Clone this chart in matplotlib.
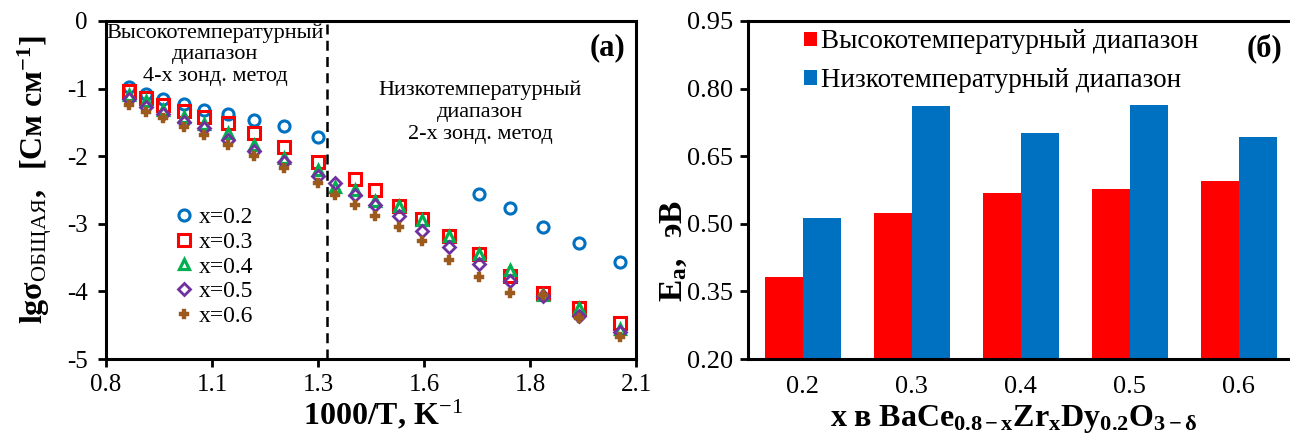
import matplotlib
matplotlib.use("Agg")
import matplotlib.pyplot as plt
import numpy as np

plt.rcParams['font.family'] = ['Liberation Serif', 'DejaVu Serif']
plt.rcParams['mathtext.fontset'] = 'custom'
plt.rcParams['mathtext.rm'] = 'Liberation Serif'
plt.rcParams['mathtext.it'] = 'Liberation Serif:italic'
plt.rcParams['mathtext.bf'] = 'Liberation Serif:bold'
plt.rcParams['axes.unicode_minus'] = False

# 1000/T points, high-temperature (4-probe) and low-temperature (2-probe) runs
inv_t_high = [0.857, 0.899, 0.940, 0.992, 1.041, 1.098, 1.162, 1.236, 1.320]
inv_t_low = [1.362, 1.411, 1.460, 1.519, 1.576, 1.640, 1.714, 1.790, 1.871, 1.960, 2.060]

# lg(sigma) for each composition
lg_x02_high = [-0.98, -1.08, -1.15, -1.23, -1.31, -1.38, -1.47, -1.56, -1.71]
lg_x02_low = [-2.56, -2.76, -3.04, -3.28, -3.56]          # last five low-T points
lg_x03_high = [-1.03, -1.14, -1.24, -1.33, -1.42, -1.51, -1.65, -1.86, -2.09]
lg_x03_low = [-2.33, -2.50, -2.74, -2.93, -3.18, -3.45, -3.77, -4.03, -4.24, -4.47]  # from 2nd low-T point
lg_x04_high = [-1.09, -1.19, -1.32, -1.42, -1.52, -1.66, -1.83, -2.03, -2.20]
lg_x04_low = [-2.45, -2.50, -2.66, -2.74, -2.95, -3.18, -3.45, -3.69, -4.05, -4.25, -4.55]
lg_x05_high = [-1.16, -1.27, -1.38, -1.49, -1.59, -1.76, -1.92, -2.09, -2.29]
lg_x05_low = [-2.40, -2.57, -2.72, -2.89, -3.11, -3.34, -3.59, -3.84, -4.07, -4.37, -4.60]
lg_x06_high = [-1.24, -1.34, -1.44, -1.57, -1.69, -1.83, -2.00, -2.18, -2.40]
lg_x06_low = [-2.57, -2.72, -2.88, -3.05, -3.25, -3.53, -3.78, -4.03, -4.05, -4.39, -4.68]

x_boundary = 1.342

x_ticks = [0.8, 1.06, 1.32, 1.58, 1.84, 2.1]
y_ticks = [-5, -4, -3, -2, -1, 0]

# activation energies, eV
compositions = ['0.2', '0.3', '0.4', '0.5', '0.6']
ea_high = [0.383, 0.523, 0.569, 0.578, 0.595]
ea_low = [0.513, 0.761, 0.702, 0.764, 0.692]
ea_ticks = [0.20, 0.35, 0.50, 0.65, 0.80, 0.95]

fig = plt.figure(figsize=(12.9, 4.43), dpi=100)
ax1 = fig.add_axes([0.0822, 0.1896, 0.4109, 0.763])
ax2 = fig.add_axes([0.580, 0.1896, 0.4225, 0.763])

series = [
    ('x=0.2', inv_t_high + inv_t_low[-5:], lg_x02_high + lg_x02_low,
     dict(marker='o', ms=8, mfc='none', mec='#0070C0', mew=2.2)),
    ('x=0.3', inv_t_high + inv_t_low[1:], lg_x03_high + lg_x03_low,
     dict(marker='s', ms=8, mfc='none', mec='#FF0000', mew=2.2)),
    ('x=0.4', inv_t_high + inv_t_low, lg_x04_high + lg_x04_low,
     dict(marker='^', ms=6.5, mfc='white', mec='#00B050', mew=2.3)),
    ('x=0.5', inv_t_high + inv_t_low, lg_x05_high + lg_x05_low,
     dict(marker='D', ms=6, mfc='none', mec='#7030A0', mew=2.0)),
    ('x=0.6', inv_t_high + inv_t_low, lg_x06_high + lg_x06_low,
     dict(marker='P', ms=7, mfc='#9C5A1C', mec='#9C5A1C', mew=0.3)),
]
for label, xs, ys, style in series:
    ax1.plot(xs, ys, ls='none', label=label, **style)

ax1.axvline(x_boundary, color='black', ls=(0, (4, 2.5)), lw=1.8)

ax1.set_xlim(0.8, 2.1)
ax1.set_ylim(-5, 0)
ax1.set_xticks(x_ticks)
ax1.set_xticklabels(['%.1f' % v for v in x_ticks])
ax1.set_yticks(y_ticks)
ax1.set_yticklabels([str(v) for v in y_ticks])
ax1.tick_params(labelsize=18, width=2, length=6, direction='out', color='black')
ax1.tick_params(axis='y', pad=7)
ax1.tick_params(axis='x', pad=5)
for sp in ax1.spines.values():
    sp.set_linewidth(2.2)

ax1.set_xlabel('1000/T, K$^{-1}$', fontsize=23, fontweight='bold')
ax1.xaxis.set_label_coords(0.523, -0.115)
ax1.set_ylabel(r'$\mathbf{lg\sigma}_{\mathrm{ОБЩАЯ}}\mathbf{,\ \ [См\ см^{-1}]}$',
               fontsize=23)
ax1.yaxis.set_label_coords(-0.098, 0.53)

ax1.text(1.067, -0.03, 'Высокотемпературный\nдиапазон\n4-х зонд. метод',
         ha='center', va='top', fontsize=16, linespacing=1.2)
ax1.text(1.717, -0.88, 'Низкотемпературный\nдиапазон\n2-х зонд. метод',
         ha='center', va='top', fontsize=16, linespacing=1.2)
ax1.text(0.979, 0.964, '(a)', transform=ax1.transAxes, ha='right', va='top',
         fontsize=22, fontweight='bold')

ax1.legend(loc='upper left', bbox_to_anchor=(0.13, 0.45), frameon=False,
           fontsize=17, handlelength=0.8, handletextpad=0.2, labelspacing=0.13,
           borderpad=0, borderaxespad=0)

# bar chart of activation energies
pos = np.arange(len(compositions))
w = 0.35
ax2.bar(pos - w / 2, ea_high, w, color='#FF0000', label='Высокотемпературный диапазон')
ax2.bar(pos + w / 2, ea_low, w, color='#0070C0', label='Низкотемпературный диапазон')
ax2.set_xlim(-0.5, 4.5)
ax2.set_ylim(0.20, 0.95)
ax2.set_xticks(pos)
ax2.set_xticklabels(compositions)
ax2.set_yticks(ea_ticks)
ax2.set_yticklabels(['%.2f' % v for v in ea_ticks])
ax2.tick_params(axis='y', labelsize=19, width=2, length=6, direction='out', pad=5)
ax2.tick_params(axis='x', labelsize=19, length=0, pad=12)
for sp in ax2.spines.values():
    sp.set_linewidth(2.2)
ax2.spines['right'].set_visible(False)

ax2.set_xlabel(r'$\mathbf{x\ в\ BaCe_{0.8−x}Zr_{x}Dy_{0.2}O_{3−δ}}$', fontsize=23)
ax2.xaxis.set_label_coords(0.486, -0.13)
ax2.set_ylabel(r'$\mathbf{E_{a},\ \ эВ}$', fontsize=24)
ax2.yaxis.set_label_coords(-0.108, 0.32)
ax2.text(0.98, 0.964, '(б)', transform=ax2.transAxes, ha='right', va='top',
         fontsize=22, fontweight='bold')
ax2.legend(loc='upper left', bbox_to_anchor=(0.103, 0.975), frameon=False,
           fontsize=19.5, handlelength=0.45, handleheight=0.45, handletextpad=0.15,
           labelspacing=0.5, borderpad=0, borderaxespad=0)

fig.savefig('out.png', dpi=100)
